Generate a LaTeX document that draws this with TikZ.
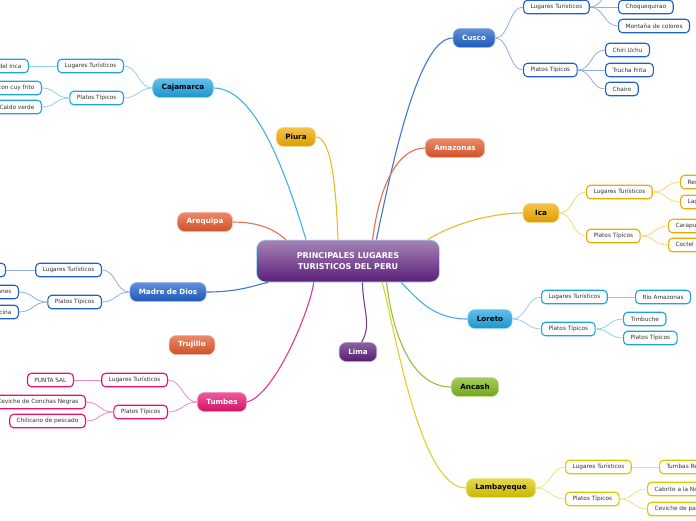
\documentclass[tikz,border=0pt]{standalone}
\usepackage{fontspec}
\setmainfont{DejaVu Sans}

\definecolor{cuscoblue}{HTML}{1F5FC8}
\definecolor{skyblue}{HTML}{1EA3E0}
\definecolor{gold}{HTML}{F0AA00}
\definecolor{brick}{HTML}{E2572A}
\definecolor{rosa}{HTML}{E5136F}
\definecolor{mostaza}{HTML}{DAC800}
\definecolor{uva}{HTML}{5B1F7A}
\definecolor{verde}{HTML}{7DB51B}

\tikzset{
  topic/.style={rounded corners=7pt, minimum height=19pt, minimum width=36pt,
    inner xsep=9pt, inner ysep=0pt, top color=#1!70!white, bottom color=#1!92!black,
    draw=#1!45!white, line width=0.6pt, font=\fontsize{7.2}{8}\selectfont\bfseries},
  sub/.style={rounded corners=4pt, minimum height=13.5pt, inner xsep=7pt, inner ysep=0pt,
    draw=#1, fill=white, line width=1.1pt, text=black!80,
    font=\fontsize{5.8}{6}\selectfont},
  branch/.style={#1!85!white, line width=1.1pt},
  twig/.style={#1!50!white, line width=0.8pt},
}

\begin{document}
\begin{tikzpicture}[x=1pt, y=-1pt]
  \useasboundingbox (0,0) rectangle (696,520);
  \clip (0,0) rectangle (696,520);

  \node[rounded corners=9pt, minimum width=183pt, minimum height=42pt,
    top color=uva!55!white, bottom color=uva, draw=cyan!35!white, line width=0.8pt,
    text=white, align=center, font=\fontsize{8}{11}\selectfont\bfseries]
    (peru) at (348,261) {PRINCIPALES LUGARES\\TURISTICOS DEL PERU};

  \node[topic=cuscoblue, text=white] (cusco) at (474,38) {Cusco};
  \node[topic=skyblue] (cajamarca) at (183,88) {Cajamarca};
  \node[topic=gold] (piura) at (296,137) {Piura};
  \node[topic=brick, text=white] (amazonas) at (455,148) {Amazonas};
  \node[topic=brick, text=white] (arequipa) at (205,222) {Arequipa};
  \node[topic=gold] (ica) at (541,213) {Ica};
  \node[topic=cuscoblue, text=white] (madre) at (168,292) {Madre de Dios};
  \node[topic=skyblue] (loreto) at (490,319) {Loreto};
  \node[topic=brick, text=white] (trujillo) at (192,345) {Trujillo};
  \node[topic=uva, text=white] (lima) at (358,352) {Lima};
  \node[topic=verde] (ancash) at (475,387) {Ancash};
  \node[topic=rosa, text=white] (tumbes) at (222,402) {Tumbes};
  \node[topic=mostaza] (lambayeque) at (501,488) {Lambayeque};

  \draw[branch=skyblue] (peru.153) .. controls (285,170) and (255,88) .. (cajamarca.east);
  \draw[branch=gold] (peru.115) .. controls (336,190) and (332,137) .. (piura.east);
  \draw[branch=cuscoblue] (peru.37) .. controls (395,150) and (420,38) .. (cusco.west);
  \draw[branch=brick] (peru.41) .. controls (380,180) and (400,148) .. (amazonas.west);
  \draw[branch=brick] (peru.161) .. controls (275,230) and (260,222) .. (arequipa.east);
  \draw[branch=gold] (peru.15) .. controls (450,225) and (490,213) .. (ica.west);
  \draw[branch=cuscoblue] (peru.195) .. controls (255,285) and (240,292) .. (madre.east);
  \draw[branch=skyblue] (peru.338) .. controls (415,295) and (430,319) .. (loreto.west);
  \draw[branch=uva] (peru.304) .. controls (363,310) and (372,325) .. (lima.70);
  \draw[branch=verde] (peru.331) .. controls (392,330) and (410,387) .. (ancash.west);
  \draw[branch=mostaza] (peru.328) .. controls (395,330) and (420,488) .. (lambayeque.west);
  \draw[branch=rosa] (peru.212) .. controls (310,310) and (275,395) .. (tumbes.east);

  % Cusco
  \node[sub=cuscoblue, anchor=west] (cuscolug) at (523,7) {Lugares Turísticos};
  \node[sub=cuscoblue, anchor=west] (cuscopla) at (523,70) {Platos Típicos};
  \node[sub=cuscoblue, anchor=west] (choque) at (618,7) {Choquequirao};
  \node[sub=cuscoblue, anchor=west] (montana) at (618,26) {Montaña de colores};
  \node[sub=cuscoblue, anchor=west] (chiri) at (605,50) {Chiri Uchu};
  \node[sub=cuscoblue, anchor=west] (trucha) at (605,70) {Trucha Frita};
  \node[sub=cuscoblue, anchor=west] (chairo) at (605,89) {Chairo};
  \coordinate (cuscotop) at (618,-13);
  \draw[twig=cuscoblue] (cusco.east) .. controls +(14,0) and +(-14,0) .. (cuscolug.west);
  \draw[twig=cuscoblue] (cusco.east) .. controls +(14,0) and +(-14,0) .. (cuscopla.west);
  \draw[twig=cuscoblue] (cuscolug.east) .. controls +(14,0) and +(-14,0) .. (cuscotop);
  \draw[twig=cuscoblue] (cuscolug.east) -- (choque.west);
  \draw[twig=cuscoblue] (cuscolug.east) .. controls +(14,0) and +(-14,0) .. (montana.west);
  \draw[twig=cuscoblue] (cuscopla.east) .. controls +(14,0) and +(-14,0) .. (chiri.west);
  \draw[twig=cuscoblue] (cuscopla.east) -- (trucha.west);
  \draw[twig=cuscoblue] (cuscopla.east) .. controls +(14,0) and +(-14,0) .. (chairo.west);

  % Cajamarca
  \node[sub=skyblue, anchor=east] (cajalug) at (124,66) {Lugares Turísticos};
  \node[sub=skyblue, anchor=east] (cajapla) at (124,98) {Platos Típicos};
  \node[sub=skyblue, anchor=east] (banos) at (29,66) {Baños del Inca};
  \node[sub=skyblue, anchor=east] (cuy) at (42,88) {Picante de papa con cuy frito};
  \node[sub=skyblue, anchor=east] (caldo) at (42,107) {Caldo verde};
  \draw[twig=skyblue] (cajamarca.west) .. controls +(-14,0) and +(14,0) .. (cajalug.east);
  \draw[twig=skyblue] (cajamarca.west) .. controls +(-14,0) and +(14,0) .. (cajapla.east);
  \draw[twig=skyblue] (cajalug.west) -- (banos.east);
  \draw[twig=skyblue] (cajapla.west) .. controls +(-14,0) and +(14,0) .. (cuy.east);
  \draw[twig=skyblue] (cajapla.west) .. controls +(-14,0) and +(14,0) .. (caldo.east);

  % Madre de Dios
  \node[sub=cuscoblue, anchor=east] (madrelug) at (102,270) {Lugares Turísticos};
  \node[sub=cuscoblue, anchor=east] (madrepla) at (102,302) {Platos Típicos};
  \node[sub=cuscoblue, anchor=east] (sandoval) at (6,270) {Lago Sandoval};
  \node[sub=cuscoblue, anchor=east] (juanes) at (19,292) {Juanes};
  \node[sub=cuscoblue, anchor=east] (tacacho) at (19,312) {Tacacho con cecina};
  \draw[twig=cuscoblue] (madre.west) .. controls +(-14,0) and +(14,0) .. (madrelug.east);
  \draw[twig=cuscoblue] (madre.west) .. controls +(-14,0) and +(14,0) .. (madrepla.east);
  \draw[twig=cuscoblue] (madrelug.west) -- (sandoval.east);
  \draw[twig=cuscoblue] (madrepla.west) .. controls +(-14,0) and +(14,0) .. (juanes.east);
  \draw[twig=cuscoblue] (madrepla.west) .. controls +(-14,0) and +(14,0) .. (tacacho.east);

  % Tumbes
  \node[sub=rosa, anchor=east] (tumbeslug) at (168,380) {Lugares Turísticos};
  \node[sub=rosa, anchor=east] (tumbespla) at (168,412) {Platos Típicos};
  \node[sub=rosa, anchor=east] (puntasal) at (74,380) {PUNTA SAL};
  \node[sub=rosa, anchor=east] (conchas) at (86,402) {Ceviche de Conchas Negras};
  \node[sub=rosa, anchor=east] (chilicano) at (86,421) {Chilicano de pescado};
  \draw[twig=rosa] (tumbes.west) .. controls +(-14,0) and +(14,0) .. (tumbeslug.east);
  \draw[twig=rosa] (tumbes.west) .. controls +(-14,0) and +(14,0) .. (tumbespla.east);
  \draw[twig=rosa] (tumbeslug.west) -- (puntasal.east);
  \draw[twig=rosa] (tumbespla.west) .. controls +(-14,0) and +(14,0) .. (conchas.east);
  \draw[twig=rosa] (tumbespla.west) .. controls +(-14,0) and +(14,0) .. (chilicano.east);

  % Ica
  \node[sub=gold, anchor=west] (icalug) at (586,192) {Lugares Turísticos};
  \node[sub=gold, anchor=west] (icapla) at (586,236) {Platos Típicos};
  \node[sub=gold, anchor=west] (paracas) at (680,182) {Reserva Nacional de Paracas};
  \node[sub=gold, anchor=west] (huacachina) at (680,202) {Laguna de Huacachina};
  \node[sub=gold, anchor=west] (carapulcra) at (668,226) {Carapulcra};
  \node[sub=gold, anchor=west] (coctel) at (668,245) {Coctel de pisco};
  \draw[twig=gold] (ica.east) .. controls +(14,0) and +(-14,0) .. (icalug.west);
  \draw[twig=gold] (ica.east) .. controls +(14,0) and +(-14,0) .. (icapla.west);
  \draw[twig=gold] (icalug.east) .. controls +(14,0) and +(-14,0) .. (paracas.west);
  \draw[twig=gold] (icalug.east) .. controls +(14,0) and +(-14,0) .. (huacachina.west);
  \draw[twig=gold] (icapla.east) .. controls +(14,0) and +(-14,0) .. (carapulcra.west);
  \draw[twig=gold] (icapla.east) .. controls +(14,0) and +(-14,0) .. (coctel.west);

  % Loreto
  \node[sub=skyblue, anchor=west] (loretolug) at (541,297) {Lugares Turísticos};
  \node[sub=skyblue, anchor=west] (loretopla) at (541,329) {Platos Típicos};
  \node[sub=skyblue, anchor=west] (rio) at (635,297) {Río Amazonas};
  \node[sub=skyblue, anchor=west] (timbuche) at (623,319) {Timbuche};
  \node[sub=skyblue, anchor=west] (platos) at (623,338) {Platos Típicos};
  \draw[twig=skyblue] (loreto.east) .. controls +(14,0) and +(-14,0) .. (loretolug.west);
  \draw[twig=skyblue] (loreto.east) .. controls +(14,0) and +(-14,0) .. (loretopla.west);
  \draw[twig=skyblue] (loretolug.east) -- (rio.west);
  \draw[twig=skyblue] (loretopla.east) .. controls +(14,0) and +(-14,0) .. (timbuche.west);
  \draw[twig=skyblue] (loretopla.east) .. controls +(14,0) and +(-14,0) .. (platos.west);

  % Lambayeque
  \node[sub=mostaza, anchor=west] (lambalug) at (565,467) {Lugares Turísticos};
  \node[sub=mostaza, anchor=west] (lambapla) at (565,499) {Platos Típicos};
  \node[sub=mostaza, anchor=west] (sipan) at (659,467) {Tumbas Reales de Sipán};
  \node[sub=mostaza, anchor=west] (cabrito) at (647,489) {Cabrito a la Norteña};
  \node[sub=mostaza, anchor=west] (pato) at (647,509) {Ceviche de pato};
  \draw[twig=mostaza] (lambayeque.east) .. controls +(14,0) and +(-14,0) .. (lambalug.west);
  \draw[twig=mostaza] (lambayeque.east) .. controls +(14,0) and +(-14,0) .. (lambapla.west);
  \draw[twig=mostaza] (lambalug.east) -- (sipan.west);
  \draw[twig=mostaza] (lambapla.east) .. controls +(14,0) and +(-14,0) .. (cabrito.west);
  \draw[twig=mostaza] (lambapla.east) .. controls +(14,0) and +(-14,0) .. (pato.west);
\end{tikzpicture}
\end{document}
